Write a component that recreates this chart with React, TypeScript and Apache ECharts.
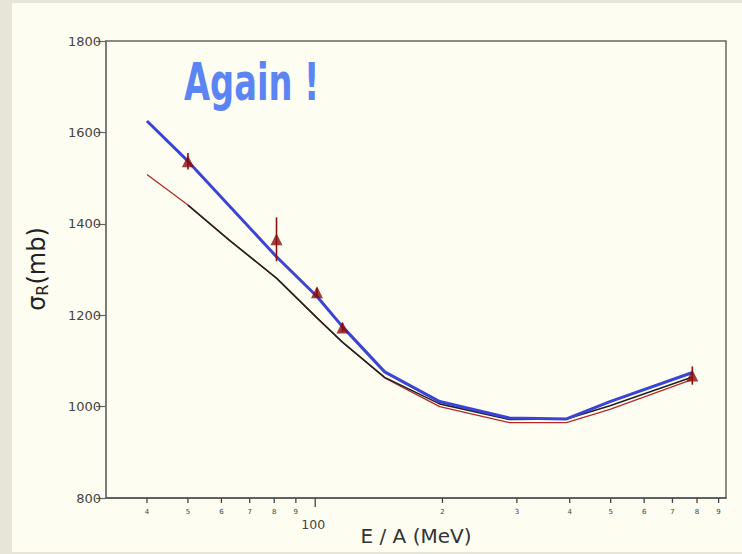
import React, { useEffect, useRef } from "react";
import * as echarts from "echarts";

// x tick marks (E/A in MeV) and their labels
const xTickValues = [40, 50, 60, 70, 80, 90, 100, 200, 300, 400, 500, 600, 700, 800, 900];
const xTickLabels = ["4", "5", "6", "7", "8", "9", "100", "2", "3", "4", "5", "6", "7", "8", "9"];

// experimental points
const expE = [50, 81, 101, 116, 780];
const expSigma = [1537, 1366, 1250, 1173, 1068];
const expErr = [18, 48, 10, 10, 20];

// blue curve
const blueE = [40, 50, 81, 101, 116, 146, 197, 288, 393, 498, 778];
const blueS = [1625, 1537, 1328, 1241, 1175, 1076, 1011, 975, 973, 1011, 1074];

// black curve
const blackE = [50, 62.5, 81, 101, 116, 146, 197, 288, 393, 498, 778];
const blackS = [1441, 1365, 1281, 1194, 1141, 1064, 1006, 972, 973, 1002, 1064];

// red curve
const redE = [40, 50, 62.5, 81, 101, 116, 146, 197, 288, 393, 498, 778];
const redS = [1508, 1441, 1365, 1281, 1194, 1141, 1063, 1000, 965, 965, 994, 1059];

const pairs = (xs: number[], ys: number[]) => xs.map((x, i) => [x, ys[i]]);

export default function App() {
  const ref = useRef<HTMLDivElement>(null);
  useEffect(() => {
    if (!ref.current) return;
    const chart = echarts.init(ref.current, undefined, { renderer: "svg" });
    const option: any = {
      animation: false,
      backgroundColor: "#fdfdf1",
      grid: {
        left: 94,
        right: 16,
        top: 38,
        bottom: 54,
        show: true,
        borderColor: "#666",
        borderWidth: 1.5,
        backgroundColor: "transparent",
      },
      xAxis: {
        type: "log",
        logBase: 10,
        min: 32,
        max: 937,
        axisLine: { show: true, lineStyle: { color: "#555", width: 1.5 } },
        axisTick: { show: false },
        axisLabel: { show: false },
        splitLine: { show: false },
        minorTick: { show: false },
      },
      yAxis: {
        type: "value",
        min: 800,
        max: 1800,
        interval: 200,
        axisLine: { show: true, lineStyle: { color: "#777", width: 1.5 } },
        axisTick: { show: true, inside: false, length: 10, lineStyle: { color: "#666", width: 1.2 } },
        axisLabel: {
          fontSize: 13,
          color: "#444",
          margin: 5,
          fontFamily: "DejaVu Sans",
          formatter: (v: number) => String(v),
        },
        splitLine: { show: false },
      },
      graphic: [
        {
          type: "text",
          x: 172,
          y: 79,
          scaleX: 0.72,
          style: {
            text: "Again !",
            fontSize: 52,
            fontWeight: "bold",
            fontFamily: "DejaVu Sans Condensed, Liberation Sans Narrow, sans-serif",
            fill: "#5b84f4",
            align: "left",
            verticalAlign: "middle",
          },
        },
        {
          type: "text",
          x: 404,
          y: 533,
          style: {
            text: "E / A (MeV)",
            fontSize: 20,
            fontFamily: "DejaVu Sans",
            fill: "#333",
            align: "center",
            verticalAlign: "middle",
          },
        },
        {
          type: "text",
          x: 25,
          y: 266,
          rotation: Math.PI / 2,
          style: {
            text: "{s|σ}{r|R}{s|(mb)}",
            align: "center",
            verticalAlign: "middle",
            fill: "#222",
            rich: {
              s: { fontSize: 24, fontFamily: "DejaVu Sans", fill: "#222", lineHeight: 28 },
              r: { fontSize: 16, fontFamily: "DejaVu Sans", fill: "#222", padding: [11, 0, 0, 0] },
            },
          },
        },
      ],
      series: [
        {
          type: "custom",
          clip: false,
          silent: true,
          data: xTickValues.map((v) => [v, 800]),
          renderItem: (params: any, api: any) => {
            const p = api.coord([api.value(0), api.value(1)]);
            const lbl = xTickLabels[params.dataIndex];
            const major = lbl === "100";
            const len = major ? 9 : 5;
            return {
              type: "group",
              children: [
                {
                  type: "line",
                  shape: { x1: p[0], y1: p[1], x2: p[0], y2: p[1] + len },
                  style: { stroke: "#444", lineWidth: 1.3 },
                },
                {
                  type: "text",
                  x: major ? p[0] - 2 : p[0],
                  y: major ? p[1] + 26 : p[1] + 14,
                  style: {
                    text: lbl,
                    fontSize: major ? 12.5 : 7,
                    fontFamily: "DejaVu Sans",
                    fill: "#444",
                    align: "center",
                    verticalAlign: "middle",
                  },
                },
              ],
            };
          },
          z: 3,
        },
        {
          type: "line",
          data: pairs(redE, redS),
          showSymbol: false,
          smooth: false,
          lineStyle: { color: "#b52a2a", width: 1.3 },
          z: 4,
        },
        {
          type: "line",
          data: pairs(blackE, blackS),
          showSymbol: false,
          smooth: false,
          lineStyle: { color: "#222", width: 1.6 },
          z: 5,
        },
        {
          type: "line",
          data: pairs(blueE, blueS),
          showSymbol: false,
          smooth: false,
          lineStyle: { color: "#3b44d4", width: 3 },
          z: 6,
        },
        {
          type: "custom",
          silent: true,
          data: expE.map((e, i) => [e, expSigma[i] - expErr[i], expSigma[i] + expErr[i]]),
          encode: { x: 0, y: [1, 2] },
          renderItem: (params: any, api: any) => {
            const lo = api.coord([api.value(0), api.value(1)]);
            const hi = api.coord([api.value(0), api.value(2)]);
            return {
              type: "line",
              shape: { x1: lo[0], y1: lo[1], x2: hi[0], y2: hi[1] },
              style: { stroke: "#8a1010", lineWidth: 1.6 },
            };
          },
          z: 7,
        },
        {
          type: "scatter",
          data: pairs(expE, expSigma),
          symbol: "triangle",
          symbolSize: [12, 12],
          itemStyle: { color: "#8a0c0c" },
          z: 8,
        },
      ],
    };
    chart.setOption(option);
    return () => chart.dispose();
  }, []);
  return (
    <div style={{ position: "fixed", left: 0, top: 0, width: 742, height: 554, background: "#e7e5d7" }}>
      <div ref={ref} style={{ position: "absolute", left: 12, top: 3, width: 730, height: 549 }} />
    </div>
  );
}
